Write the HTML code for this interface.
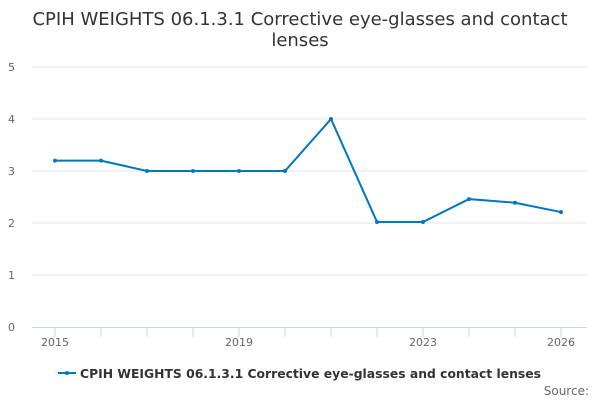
<!DOCTYPE html>
<html><head><meta charset="utf-8"><style>
body{margin:0;background:#fff;}
svg{font-family:"DejaVu Sans","Liberation Sans",sans-serif;}
</style></head><body>
<svg width="600" height="400">
<text x="300" y="25" text-anchor="middle" font-size="18" fill="#333">CPIH WEIGHTS 06.1.3.1 Corrective eye-glasses and contact</text>
<text x="300" y="46" text-anchor="middle" font-size="18" fill="#333">lenses</text>
<g id="grid"></g><g id="xaxis"></g><g id="series"></g>
<g>
<line x1="58" y1="373" x2="76" y2="373" stroke="#0077c0" stroke-width="2"/>
<circle cx="67" cy="373" r="2" fill="#0077c0"/>
<text x="80" y="378" font-size="12.5" font-weight="bold" fill="#333" textLength="461" lengthAdjust="spacingAndGlyphs">CPIH WEIGHTS 06.1.3.1 Corrective eye-glasses and contact lenses</text>
</g>
<text x="589" y="395" text-anchor="end" font-size="12" fill="#666">Source:</text>
</svg>
<script>
const categories=[2015,2016,2017,2018,2019,2020,2021,2022,2023,2024,2025,2026];
const values=[3.2,3.2,3.0,3.0,3.0,3.0,4.0,2.02,2.02,2.46,2.39,2.21];
const yTicks=[0,1,2,3,4,5];
const xLabels=["2015","2019","2023","2026"];
const NS="http://www.w3.org/2000/svg";
const x=i=>55+i*(561-55)/(categories.length-1);
const y=v=>327-v*52;
function mk(t,a,p){const e=document.createElementNS(NS,t);for(const k in a)e.setAttribute(k,a[k]);p.appendChild(e);return e;}
const g=document.getElementById('grid'),xa=document.getElementById('xaxis'),s=document.getElementById('series');
yTicks.forEach(v=>{
 if(v>0){const l=mk('line',{x1:32,x2:587,y1:y(v),y2:y(v),stroke:'#e6e6e6'},g);
 
 }
 const t=mk('text',{x:15,y:y(v)+4,'font-size':11,fill:'#666','text-anchor':'end'},g);t.textContent=v;
 
 
});
const ax=mk('line',{x1:32,x2:587,y1:327.5,y2:327.5,stroke:'#ccd6eb'},xa);


categories.forEach((c,i)=>{
 const tk=mk('line',{x1:x(i),x2:x(i),y1:327,y2:337,stroke:'#ccd6eb'},xa);
 
 
 if(xLabels.includes(String(c))){const t=mk('text',{x:x(i),y:346,'font-size':11,fill:'#666','text-anchor':'middle'},xa);t.textContent=c;
 
 }
});
const pl=mk('polyline',{points:values.map((v,i)=>x(i)+','+y(v)).join(' '),fill:'none',stroke:'#0077c0','stroke-width':2},s);


values.forEach((v,i)=>{const c=mk('circle',{cx:x(i),cy:y(v),r:2,fill:'#0077c0'},s);
 
 });
</script>
</body></html>
